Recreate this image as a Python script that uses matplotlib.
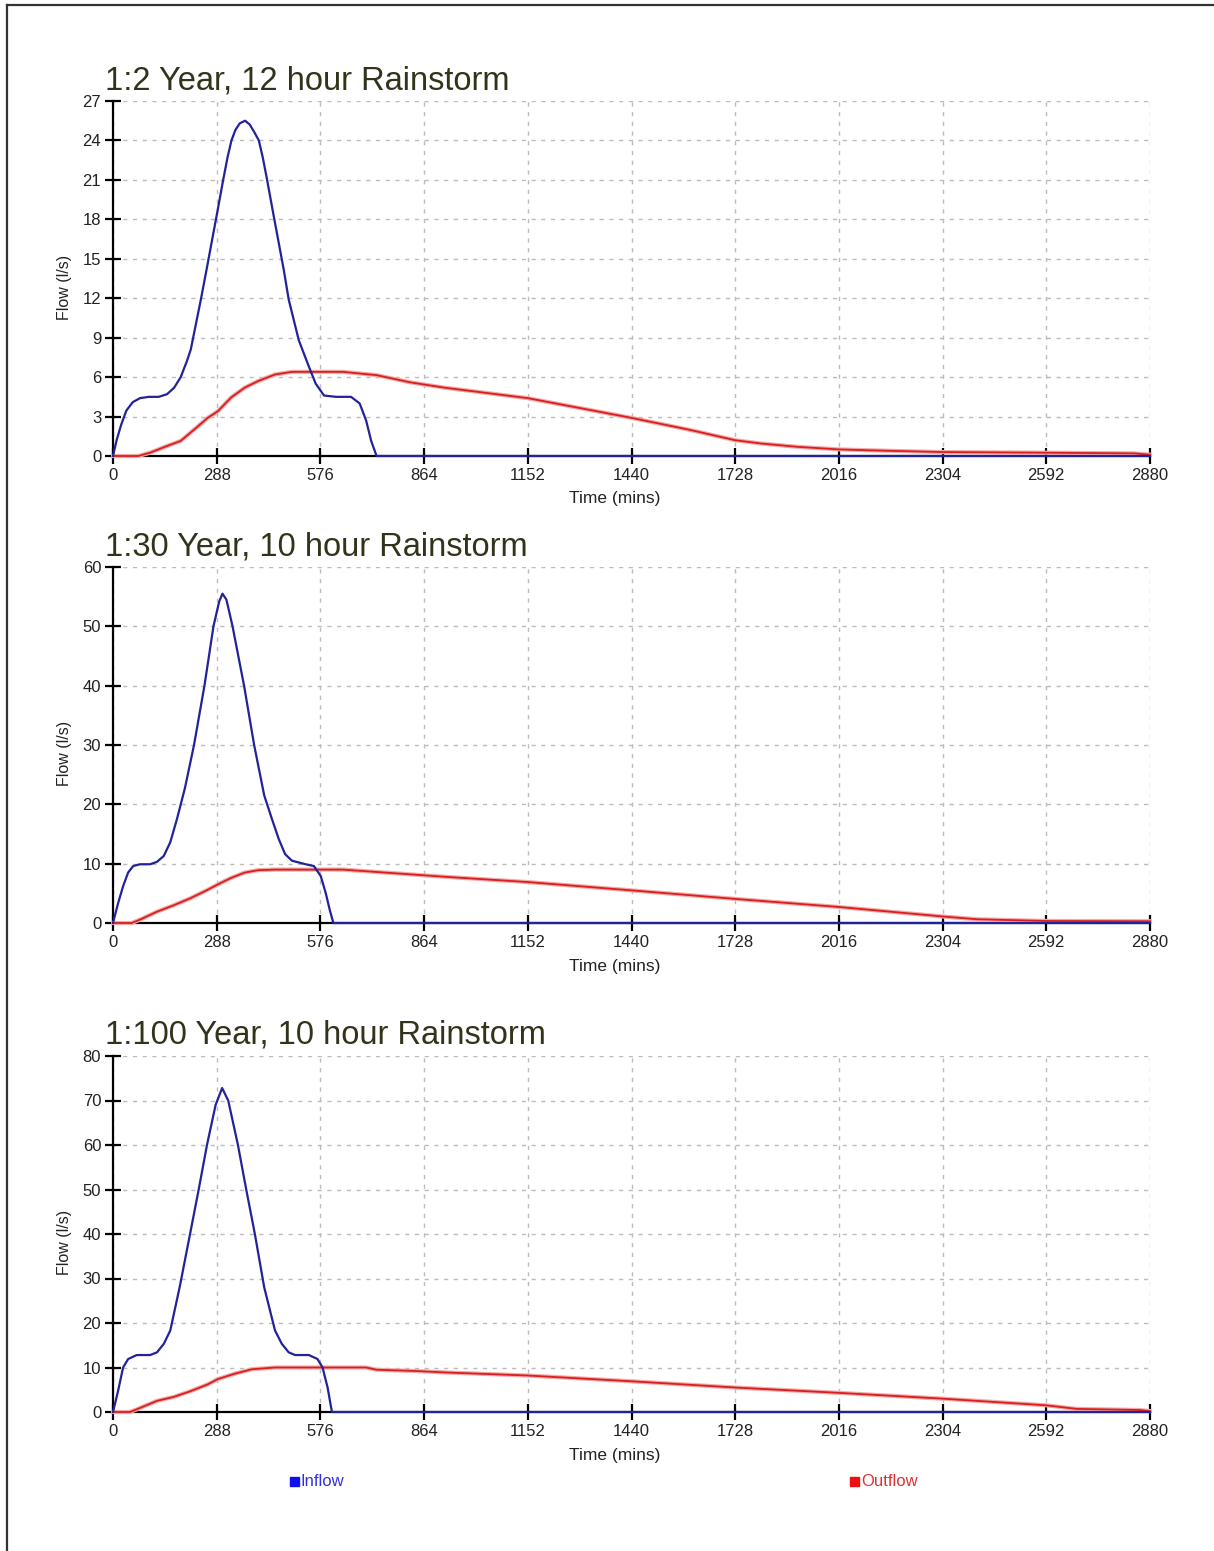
import matplotlib
matplotlib.use("Agg")
import matplotlib.pyplot as plt
from matplotlib.lines import Line2D
from matplotlib.patches import Rectangle

# --- Data ---
TITLES = ["1:2 Year, 12 hour Rainstorm",
          "1:30 Year, 10 hour Rainstorm",
          "1:100 Year, 10 hour Rainstorm"]
X_TICKS = list(range(0, 2881, 288))
Y_TICKS = [list(range(0, 28, 3)), list(range(0, 61, 10)), list(range(0, 81, 10))]

# 1:2 year
inflow1_t = [0, 10, 23, 37, 55, 75, 100, 127, 150, 170, 188, 205, 216, 230, 244, 260, 275, 290,
             306, 318, 329, 340, 352, 367, 380, 393, 405, 416, 428, 444, 459, 474, 488, 516,
             544, 563, 586, 619, 661, 685, 703, 717, 732, 2880]
inflow1_q = [0, 1.2, 2.4, 3.45, 4.1, 4.4, 4.5, 4.5, 4.7, 5.2, 6.0, 7.2, 8.1, 10.0, 11.9, 14.2, 16.4, 18.6,
             21.0, 22.7, 24.0, 24.8, 25.3, 25.5, 25.2, 24.6, 24.0, 22.7, 21.0, 18.6, 16.4, 14.2, 11.9, 8.8,
             6.8, 5.5, 4.6, 4.5, 4.5, 4.0, 2.7, 1.15, 0, 0]
outflow1_t = [0, 70, 103, 150, 188, 225, 263, 291, 328, 366, 403, 450, 497, 544, 638, 732, 826, 920,
              1152, 1440, 1600, 1728, 1800, 1900, 2016, 2150, 2304, 2592, 2836, 2880]
outflow1_q = [0, 0, 0.25, 0.76, 1.15, 2.0, 2.9, 3.4, 4.45, 5.2, 5.7, 6.2, 6.4, 6.4, 6.4, 6.15, 5.6, 5.2,
              4.4, 2.9, 2.0, 1.2, 0.95, 0.7, 0.5, 0.4, 0.3, 0.25, 0.2, 0.1]

# 1:30 year
inflow2_t = [0, 14, 28, 42, 56, 75, 103, 122, 141, 159, 178, 200, 225, 254, 279, 295, 304, 315,
             332, 364, 392, 420, 441, 460, 478, 497, 535, 558, 577, 591, 602, 612, 2880]
inflow2_q = [0, 3.3, 6.2, 8.5, 9.6, 9.9, 9.9, 10.3, 11.3, 13.6, 17.6, 22.8, 30.0, 40.0, 50.0, 54.2, 55.5, 54.5,
             50.0, 40.0, 30.0, 21.5, 17.6, 14.2, 11.6, 10.5, 9.9, 9.6, 7.9, 5.0, 2.2, 0, 0]
outflow2_t = [0, 52, 75, 122, 169, 216, 263, 291, 328, 366, 403, 450, 544, 638, 732, 826, 919,
              1152, 1440, 1728, 2016, 2304, 2400, 2592, 2880]
outflow2_q = [0, 0, 0.57, 1.9, 3.0, 4.2, 5.6, 6.5, 7.6, 8.5, 8.9, 9.0, 9.0, 9.0, 8.6, 8.2, 7.8,
              6.9, 5.5, 4.06, 2.7, 1.1, 0.63, 0.34, 0.3]

# 1:100 year
inflow3_t = [0, 14, 28, 42, 66, 103, 122, 141, 159, 185, 214, 238, 261, 285, 303, 320, 347, 370,
             394, 420, 450, 469, 488, 506, 544, 568, 582, 596, 608, 2880]
inflow3_q = [0, 4.7, 10.0, 11.9, 12.8, 12.8, 13.4, 15.3, 18.3, 28.0, 40.0, 50.0, 60.0, 69.0, 72.8, 70.0, 60.0, 50.0,
             40.0, 28.0, 18.3, 15.3, 13.4, 12.8, 12.8, 11.9, 10.0, 5.5, 0, 0]
outflow3_t = [0, 47, 66, 122, 169, 216, 263, 291, 338, 385, 450, 703, 732, 844, 919,
              1152, 1440, 1728, 2016, 2304, 2592, 2676, 2850, 2880]
outflow3_q = [0, 0, 0.6, 2.5, 3.4, 4.7, 6.2, 7.4, 8.6, 9.6, 10.0, 10.0, 9.5, 9.2, 8.9,
              8.2, 6.9, 5.5, 4.3, 3.0, 1.5, 0.7, 0.45, 0.2]

INFLOWS = [(inflow1_t, inflow1_q), (inflow2_t, inflow2_q), (inflow3_t, inflow3_q)]
OUTFLOWS = [(outflow1_t, outflow1_q), (outflow2_t, outflow2_q), (outflow3_t, outflow3_q)]

# --- Styling ---
W, H = 1214, 1551
BLUE = "#22229a"
RED = "#d81e1e"
TITLE_COLOR = "#33321a"
TEXT_COLOR = "#222222"
SANS = ["Liberation Sans", "DejaVu Sans"]

# axes pixel boxes: (top, bottom) of plotting area, x from 113 to 1150
AX_ROWS = [(101, 456), (567, 923), (1056, 1412)]
TITLE_BASE = [89, 556, 1044]
AX_LEFT, AX_RIGHT = 113, 1150


def fx(px):
    return px / W


def fy(py):
    return 1 - py / H


def main():
    fig = plt.figure(figsize=(W / 100, H / 100), dpi=100)
    fig.patch.set_facecolor("white")

    for i in range(3):
        top, bot = AX_ROWS[i]
        ax = fig.add_axes([fx(AX_LEFT), fy(bot), (AX_RIGHT - AX_LEFT) / W, (bot - top) / H])

        t_in, q_in = INFLOWS[i]
        t_out, q_out = OUTFLOWS[i]
        # faint glow under the outflow line
        ax.plot(t_out, q_out, color="#f4a8a8", lw=3.0, zorder=4, clip_on=False,
                solid_joinstyle="round")
        ax.plot(t_out, q_out, color=RED, lw=1.3, zorder=5, clip_on=False)
        ax.plot(t_in, q_in, color=BLUE, lw=1.6, zorder=6, clip_on=False)

        yt = Y_TICKS[i]
        ax.set_xlim(0, 2880)
        ax.set_ylim(0, yt[-1])
        ax.set_xticks(X_TICKS)
        ax.set_yticks(yt)
        ax.grid(True, color="#bcbcbc", linestyle=(0, (3, 4)), linewidth=1.0)
        ax.set_axisbelow(True)

        for side in ["top", "right"]:
            ax.spines[side].set_visible(False)
        for side in ["left", "bottom"]:
            ax.spines[side].set_linewidth(1.6)
            ax.spines[side].set_color("black")

        ax.tick_params(direction="inout", length=11, width=1.6, colors="black",
                       labelcolor=TEXT_COLOR, labelsize=12, pad=3)
        for lab in ax.get_xticklabels() + ax.get_yticklabels():
            lab.set_family(SANS)

        ax.set_xlabel("Time (mins)", fontsize=12.5, family=SANS, color=TEXT_COLOR)
        ax.xaxis.set_label_coords((615 - AX_LEFT) / (AX_RIGHT - AX_LEFT), -0.10)
        ax.set_ylabel("Flow (l/s)", fontsize=11.5, family=SANS, color=TEXT_COLOR)
        ax.yaxis.set_label_coords(-0.040, 0.475)

        # the original title face is a narrow one; scale down to keep its width
        fig.text(fx(105), fy(TITLE_BASE[i]), TITLES[i], fontsize=23.5, family=SANS,
                 color=TITLE_COLOR, ha="left", va="baseline")

    # legend along the bottom
    sq = 9
    fig.patches.append(Rectangle((fx(290), fy(1486)), sq / W, sq / H, color="#1010ee",
                                 transform=fig.transFigure, figure=fig))
    fig.text(fx(301), fy(1481), "Inflow", fontsize=12, family=SANS, color="#3030e0",
             ha="left", va="center")
    fig.patches.append(Rectangle((fx(850), fy(1486)), sq / W, sq / H, color="#ee1010",
                                 transform=fig.transFigure, figure=fig))
    fig.text(fx(861), fy(1481), "Outflow", fontsize=12, family=SANS, color="#e03030",
             ha="left", va="center")

    # frame lines at top and left edge
    fig.add_artist(Line2D([fx(7), 1.0], [fy(5), fy(5)], color="#333333", lw=1.6,
                          transform=fig.transFigure))
    fig.add_artist(Line2D([fx(7), fx(7)], [fy(5), 0.0], color="#333333", lw=1.6,
                          transform=fig.transFigure))

    fig.savefig("out.png", dpi=100, facecolor="white")
    plt.close(fig)


if __name__ == "__main__":
    main()
